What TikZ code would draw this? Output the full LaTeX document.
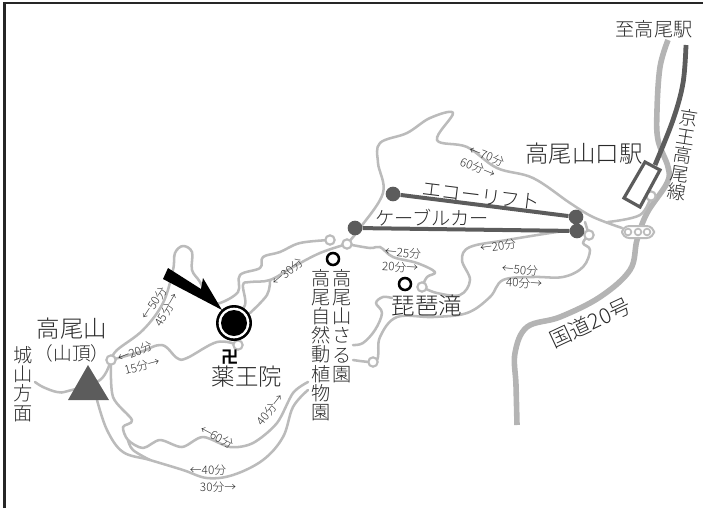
\documentclass[tikz,border=0pt]{standalone}
\usepackage{fontspec}
\setmainfont{Noto Sans CJK JP Light}[BoldFont={Noto Sans CJK JP Bold}]
\definecolor{trail}{HTML}{BBBBBB}
\definecolor{roadc}{HTML}{B4B4B4}
\definecolor{darkc}{HTML}{5C5C5C}
\definecolor{inkc}{HTML}{2A2A2A}
\newcommand{\fsz}[1]{\fontsize{#1}{#1}\selectfont}
\tikzset{
  x=0.75pt,y=-0.75pt,
  trailline/.style={draw=trail,line width=1.9pt,line join=round,line cap=round},
  roadline/.style={draw=roadc,line width=4.2pt,line join=round},
  junction/.style={circle,draw=trail,fill=white,line width=1.6pt,minimum size=7pt,inner sep=0pt},
  tun/.style={circle,draw=trail,fill=white,line width=1.3pt,minimum size=5pt,inner sep=0pt},
  liftstop/.style={circle,fill=darkc,minimum size=11pt,inner sep=0pt},
  liftline/.style={draw=darkc,line width=3pt},
  spot/.style={circle,draw=black,fill=white,line width=1.9pt,minimum size=9pt,inner sep=0pt},
  biglabel/.style={text=inkc,inner sep=0pt,align=center,font=\fsz{17.6pt}},
  midlabel/.style={text=inkc,inner sep=0pt,align=center,font=\fsz{14.4pt}},
  timelabel/.style={text=inkc,inner sep=0pt,font=\fsz{8.8pt}},
}
\begin{document}
\begin{tikzpicture}
\useasboundingbox (0,0) rectangle (703,508);
% frame
\draw[draw=black!85,line width=2.2pt] (4.5,508) -- (4.5,3) -- (703,3);
% road
\draw[roadline] plot[smooth,tension=0.6] coordinates {(517,425) (516,385) (515,353) (527,327) (560,317) (600,297) (630,270) (637,240) (647,213) (667,183) (668,167) (658,140) (657,110) (660,67) (668,40)};
% trails
\coordinate (jA) at (111,360);
\coordinate (jB) at (330,240);
\coordinate (jC) at (347,244);
\coordinate (jD) at (422,287);
\coordinate (jE) at (373,362);
\coordinate (jF) at (589,235);
\coordinate (jG) at (651,196);
\coordinate (jH) at (238,345);
\draw[trailline] plot[smooth,tension=0.6] coordinates {(35,382) (43,387) (57,392) (68,391) (100,380) (jA)};
\draw[trailline] plot[smooth,tension=0.6] coordinates {(jA) (117,350) (143,330) (163,303) (173,270) (175,253) (183,246) (192,252) (192,270) (200,282) (210,301) (220,303) (238,292) (240,275) (260,268) (263,257) (280,252) (300,243) (jB)};
\draw[trailline] plot[smooth,tension=0.6] coordinates {(233,317) (245,305) (243,285) (250,282) (270,280) (293,267) (320,253) (jC)};
\draw[trailline] plot[smooth,tension=0.6] coordinates {(270,280) (267,295) (250,313)};
\draw[trailline] plot[smooth,tension=0.6] coordinates {(jA) (140,352) (162,345) (177,358) (187,358) (217,342) (jH)};
\draw[trailline] plot[smooth,tension=0.5] coordinates {(jA) (113,397) (132,420) (123,427) (128,440) (143,448) (160,440) (182,447) (203,437) (230,447) (253,443) (277,423) (293,393) (308,382)};
\draw[trailline] plot[smooth,tension=0.6] coordinates {(97,400) (107,430) (123,452) (150,460) (183,470) (207,478) (233,475) (263,460) (283,437) (293,407) (308,390)};
\draw[trailline] plot[smooth,tension=0.6] coordinates {(128,440) (133,450) (150,460)};
\draw[trailline] plot[smooth,tension=0.6] coordinates {(353,345) (363,343) (375,330) (382,313) (376,303) (383,297) (392,298)};
\draw[trailline] plot[smooth,tension=0.6] coordinates {(jD) (437,293) (460,295) (470,280) (462,260) (470,247) (507,240) (557,232) (578,230)};
\draw[trailline] plot[smooth,tension=0.6] coordinates {(jC) (370,248) (380,247) (393,257) (417,263) (435,272) (427,277) (jD)};
\draw[trailline] plot[smooth,tension=0.6] coordinates {(353,360) (jE) (378,357) (380,337) (397,317) (433,317) (467,313) (490,297) (503,280) (533,277) (563,277) (583,267) (590,250) (583,243) (jF)};
\draw[trailline] plot[smooth,tension=0.6] coordinates {(jC) (360,228) (383,193) (378,163) (380,143) (407,133) (430,118) (453,113) (437,140) (467,147) (497,168) (533,178) (570,203) (593,217) (622,228)};
\draw[trailline] plot[smooth,tension=0.6] coordinates {(608,222) (640,215) (jG)};
\draw[trailline] (585,222) -- (jF);
% junction markers
\node[junction] at (jA) {};
\node[junction] at (jB) {};
\node[junction] at (jC) {};
\node[junction] at (jD) {};
\node[junction] at (jE) {};
\node[junction] at (jF) {};
\node[junction] at (jG) {};
\node[junction] at (jH) {};
% interchange
\draw[draw=trail,fill=white,line width=1.5pt,rounded corners=5.5pt] (622,226) rectangle (654,238);
\node[tun] at (628,232) {};
\node[tun] at (638,232) {};
\node[tun] at (647,232) {};
% railway
\draw[draw=darkc,line width=3.6pt] plot[smooth,tension=0.6] coordinates {(686,45) (683,83) (673,120) (655,165)};
\draw[draw=darkc,fill=white,line width=2.4pt] (645,162) -- (660,170) -- (640,207) -- (624,198) -- cycle;
% lifts
\node[liftstop] (eA) at (393,194) {};
\node[liftstop] (eB) at (576,217) {};
\node[liftstop] (cA) at (355,228) {};
\node[liftstop] (cB) at (577,231) {};
\draw[liftline] (eA) -- (eB);
\draw[liftline] (cA) -- (cB);
% summit
\fill[darkc] (88,365) -- (68,400) -- (109,400) -- cycle;
% temple
\node[circle,fill=black,minimum size=27pt,inner sep=0pt] at (234,323) {};
\node[circle,fill=white,minimum size=23pt,inner sep=0pt] at (234,323) {};
\node[circle,fill=black,minimum size=19.5pt,inner sep=0pt] at (234,323) {};
\fill[black] (168,268) -- (201,289) -- (203,278) -- (222,310) -- (163,279) -- cycle;
% spots
\node[spot] (sA) at (333,259) {};
\node[spot] (sB) at (405,284) {};
% labels
\node[midlabel] (tStn) at (654,29) {至高尾駅};
\node[midlabel,font=\fsz{14pt},rotate=-9] (tKeio) at (683,155) {京\\王\\高\\尾\\線};
\node[biglabel] (tGuchi) at (584,154) {高尾山口駅};
\node[midlabel,font=\fsz{14.8pt},rotate=-7] (tEco) at (481,196) {エコーリフト};
\node[midlabel] (tCable) at (432,218) {ケーブルカー};
\node[biglabel] (tBiwa) at (427,306) {琵琶滝};
\node[midlabel] (tSaru) at (342,326) {高\\尾\\山\\さ\\る\\園};
\node[midlabel] (tZoo) at (321,345) {高\\尾\\自\\然\\動\\植\\物\\園};
\node[biglabel] (tMt) at (72,329) {高尾山};
\node[midlabel,font=\fsz{14pt}] (tTop) at (72,353) {（山頂）};
\node[midlabel] (tJo) at (23,384) {城\\山\\方\\面};
\node[text=black,inner sep=0pt,font=\fsz{13pt}\bfseries] (tMan) at (230,357) {卍};
\node[biglabel] (tYaku) at (247,377) {薬王院};
\node[midlabel,font=\fsz{16pt},rotate=25] (tRoad) at (590,323) {国道20号};
% times
\node[timelabel,rotate=57] at (154,303) {←50分};
\node[timelabel,rotate=60] at (167,310) {45分→};
\node[timelabel,rotate=22] at (135,352) {←20分};
\node[timelabel,rotate=15] at (142,366) {15分→};
\node[timelabel,rotate=40] at (288,272) {←30分};
\node[timelabel,rotate=-28] at (217,437) {←60分};
\node[timelabel,rotate=52] at (270,410) {40分→};
\node[timelabel] at (208,470) {←40分};
\node[timelabel] at (218,487) {30分→};
\node[timelabel,rotate=-5] at (403,253) {←25分};
\node[timelabel,rotate=-3] at (400,267) {20分→};
\node[timelabel,rotate=-22] at (487,156) {←70分};
\node[timelabel,rotate=-22] at (478,168) {60分→};
\node[timelabel,rotate=8] at (498,246) {←20分};
\node[timelabel,rotate=-5] at (520,270) {←50分};
\node[timelabel,rotate=-3] at (524,283) {40分→};
\end{tikzpicture}
\end{document}
